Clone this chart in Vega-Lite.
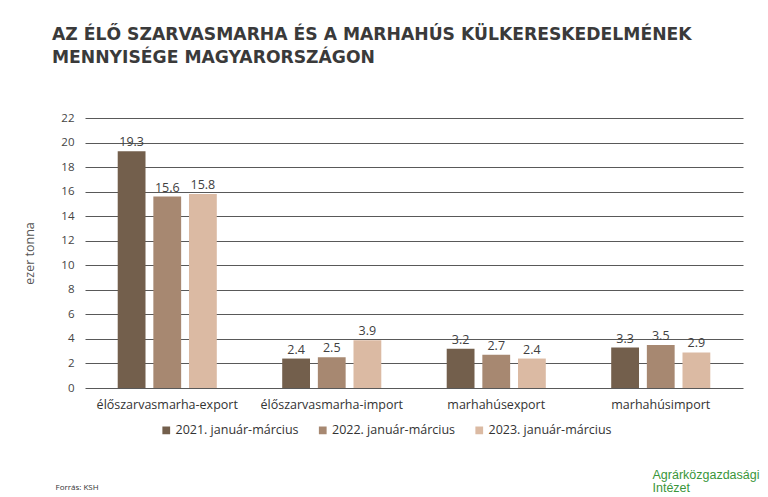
{
  "$schema": "https://vega.github.io/schema/vega-lite/v6.json",
  "width": 658,
  "height": 270,
  "autosize": {"type": "none"},
  "padding": {"left": 85, "top": 118, "right": 25, "bottom": 109},
  "background": "#ffffff",
  "title": {
    "text": ["AZ ÉLŐ SZARVASMARHA ÉS A MARHAHÚS KÜLKERESKEDELMÉNEK", "MENNYISÉGE MAGYARORSZÁGON"],
    "anchor": "start",
    "frame": "group",
    "dx": -33,
    "offset": 46,
    "font": "DejaVu Sans",
    "fontSize": 17.2,
    "fontWeight": "bold",
    "color": "#3a3a3a",
    "lineHeight": 23
  },
  "data": {
    "values": [
      {"kategoria": "élőszarvasmarha-export", "idoszak": "2021. január-március", "ertek": 19.3},
      {"kategoria": "élőszarvasmarha-export", "idoszak": "2022. január-március", "ertek": 15.6},
      {"kategoria": "élőszarvasmarha-export", "idoszak": "2023. január-március", "ertek": 15.8},
      {"kategoria": "élőszarvasmarha-import", "idoszak": "2021. január-március", "ertek": 2.4},
      {"kategoria": "élőszarvasmarha-import", "idoszak": "2022. január-március", "ertek": 2.5},
      {"kategoria": "élőszarvasmarha-import", "idoszak": "2023. január-március", "ertek": 3.9},
      {"kategoria": "marhahúsexport", "idoszak": "2021. január-március", "ertek": 3.2},
      {"kategoria": "marhahúsexport", "idoszak": "2022. január-március", "ertek": 2.7},
      {"kategoria": "marhahúsexport", "idoszak": "2023. január-március", "ertek": 2.4},
      {"kategoria": "marhahúsimport", "idoszak": "2021. január-március", "ertek": 3.3},
      {"kategoria": "marhahúsimport", "idoszak": "2022. január-március", "ertek": 3.5},
      {"kategoria": "marhahúsimport", "idoszak": "2023. január-március", "ertek": 2.9}
    ]
  },
  "encoding": {
    "x": {
      "field": "kategoria",
      "type": "nominal",
      "sort": null,
      "scale": {"paddingInner": 0.35, "paddingOuter": 0.175},
      "axis": {
        "labelAngle": 0,
        "labelFont": "Open Sans",
        "labelFontSize": 12.5,
        "labelColor": "#333333",
        "labelPadding": 10,
        "ticks": false,
        "domain": false,
        "title": "Forrás: KSH",
        "titleFont": "Open Sans",
        "titleFontSize": 8,
        "titleFontWeight": "normal",
        "titleColor": "#333333",
        "titleAnchor": "start",
        "titleAlign": "left",
        "titleBaseline": "middle",
        "titleX": -30,
        "titleY": 99
      }
    },
    "xOffset": {
      "field": "idoszak",
      "type": "nominal",
      "scale": {"paddingInner": 0.22, "paddingOuter": 0.11}
    },
    "y": {
      "field": "ertek",
      "type": "quantitative",
      "scale": {"domain": [0, 22], "nice": false},
      "axis": {
        "values": [0, 2, 4, 6, 8, 10, 12, 14, 16, 18, 20, 22],
        "grid": true,
        "gridColor": "#595959",
        "gridWidth": 1,
        "domain": false,
        "ticks": false,
        "labelFont": "Open Sans",
        "labelFontSize": 11.5,
        "labelColor": "#444444",
        "labelPadding": 11,
        "title": "ezer tonna",
        "titleFont": "Open Sans",
        "titleFontSize": 12.5,
        "titleFontWeight": "normal",
        "titleColor": "#555555",
        "titlePadding": 24
      }
    },
    "color": {
      "field": "idoszak",
      "type": "nominal",
      "scale": {
        "domain": ["2021. január-március", "2022. január-március", "2023. január-március"],
        "range": ["#735f4c", "#a78871", "#dbbaa3"]
      },
      "legend": {
        "title": null,
        "orient": "none",
        "direction": "horizontal",
        "legendX": 75,
        "legendY": 306,
        "symbolType": "square",
        "symbolSize": 60,
        "symbolStrokeWidth": 0,
        "labelFont": "Open Sans",
        "labelFontSize": 12.5,
        "labelColor": "#333333",
        "labelOffset": 3,
        "columnPadding": 17.5,
        "labelLimit": 200
      }
    }
  },
  "layer": [
    {"mark": {"type": "bar"}},
    {
      "mark": {"type": "text", "dy": -9, "font": "Open Sans", "fontSize": 12.5, "color": "#404040"},
      "encoding": {
        "text": {"field": "ertek", "type": "quantitative", "format": ".1f"},
        "color": {"value": "#404040"},
        "y": {
          "field": "ertek",
          "type": "quantitative",
          "scale": {"domain": [0, 22], "nice": false},
          "axis": {
            "orient": "right",
            "labels": false,
            "grid": false,
            "ticks": false,
            "domain": false,
            "title": ["Agrárközgazdasági", "Intézet"],
            "titleAngle": 0,
            "titleAlign": "left",
            "titleBaseline": "middle",
            "titleFont": "Liberation Sans",
            "titleFontSize": 12.5,
            "titleFontWeight": "normal",
            "titleColor": "#3a963a",
            "titleLineHeight": 13,
            "titleX": -91,
            "titleY": 356
          }
        }
      }
    }
  ],
  "resolve": {"scale": {"y": "shared"}, "axis": {"y": "independent"}},
  "config": {"view": {"stroke": null}}
}
